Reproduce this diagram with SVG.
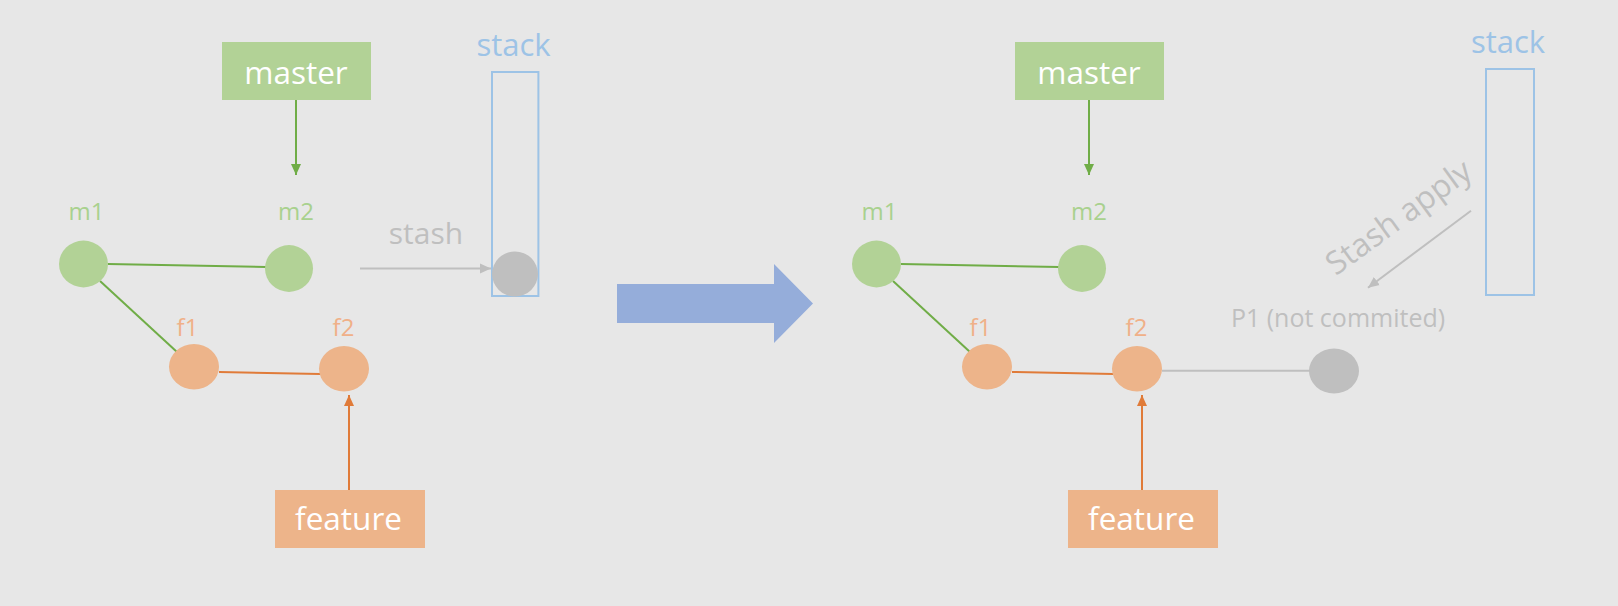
<svg xmlns="http://www.w3.org/2000/svg" width="1618" height="606" viewBox="0 0 1618 606">
<defs>
<style>
text{font-family:"Open Sans","Noto Sans","Liberation Sans",sans-serif;}
.bl{font-size:31.5px;fill:#ffffff;text-anchor:middle;}
.gl{font-size:24px;fill:#A9D18E;text-anchor:middle;}
.ol{font-size:24px;fill:#F0B088;text-anchor:middle;}
.st{font-size:31px;fill:#9DC3E6;text-anchor:middle;}
.gy{font-size:30px;fill:#BFBFBF;text-anchor:middle;}
.gbox{fill:#B2D296;}
.obox{fill:#EDB48A;}
.gn{fill:#B2D296;}
.on{fill:#EDB48A;}
.yn{fill:#BFBFBF;}
.stk{fill:none;stroke:#9DC3E6;stroke-width:2;}
.gline{stroke:#70AD47;stroke-width:2;fill:none;}
.oline{stroke:#E07B39;stroke-width:2;fill:none;}
.yline{stroke:#BFBFBF;stroke-width:2;fill:none;}
</style>
<marker id="ag" markerUnits="userSpaceOnUse" markerWidth="12" markerHeight="12" refX="11" refY="6" orient="auto"><path d="M0,1 L11,6 L0,11 Z" fill="#70AD47"/></marker>
<marker id="ao" markerUnits="userSpaceOnUse" markerWidth="12" markerHeight="12" refX="11" refY="6" orient="auto"><path d="M0,1 L11,6 L0,11 Z" fill="#E07B39"/></marker>
<marker id="ay" markerUnits="userSpaceOnUse" markerWidth="12" markerHeight="12" refX="11" refY="6" orient="auto"><path d="M0,1 L11,6 L0,11 Z" fill="#BFBFBF"/></marker>
</defs>
<rect x="0" y="0" width="1618" height="606" fill="#E7E7E7"/>

<g id="connectors">
<line class="gline" x1="296" y1="100" x2="296" y2="175" marker-end="url(#ag)"/>
<line class="gline" x1="108" y1="264" x2="266" y2="267"/>
<line class="gline" x1="100" y1="281" x2="177" y2="352"/>
<line class="oline" x1="219" y1="372" x2="320" y2="374"/>
<line class="oline" x1="349" y1="490" x2="349" y2="395" marker-end="url(#ao)"/>
<line class="yline" x1="360" y1="268.5" x2="491" y2="268.5" marker-end="url(#ay)"/>

<line class="gline" x1="1089" y1="100" x2="1089" y2="175" marker-end="url(#ag)"/>
<line class="gline" x1="901" y1="264" x2="1059" y2="267"/>
<line class="gline" x1="893" y1="281" x2="970" y2="352"/>
<line class="oline" x1="1012" y1="372" x2="1113" y2="374"/>
<line class="oline" x1="1142" y1="490" x2="1142" y2="395" marker-end="url(#ao)"/>
<line class="yline" x1="1162" y1="370.7" x2="1310" y2="370.7"/>
<line class="yline" x1="1471" y1="210.7" x2="1368" y2="287.7" marker-end="url(#ay)"/>
</g>

<g id="left-master"><rect class="gbox" x="222" y="42" width="149" height="58"/><text class="bl" x="296" y="84">master</text></g>
<g id="left-m1"><ellipse class="gn" cx="83.5" cy="264" rx="24.5" ry="23.4"/><text class="gl" x="86.5" y="219.5">m1</text></g>
<g id="left-m2"><ellipse class="gn" cx="289" cy="268.5" rx="24" ry="23.4"/><text class="gl" x="296" y="219.5">m2</text></g>
<g id="left-f1"><ellipse class="on" cx="194" cy="366.7" rx="25" ry="22.7"/><text class="ol" x="187.5" y="335.7">f1</text></g>
<g id="left-f2"><ellipse class="on" cx="344" cy="368.7" rx="25" ry="22.7"/><text class="ol" x="343.5" y="335.7">f2</text></g>
<g id="left-feature"><rect class="obox" x="275" y="490" width="150" height="58"/><text class="bl" x="348.5" y="529.5">feature</text></g>
<g id="left-stash-label"><text class="gy" x="426" y="243.6">stash</text></g>
<g id="left-stack"><text class="st" x="513.5" y="55.8">stack</text><rect class="stk" x="492" y="72" width="46.4" height="224"/><ellipse class="yn" cx="515" cy="274" rx="23" ry="22.5"/></g>

<g id="big-arrow"><path d="M617,284 L774,284 L774,264 L813,303.5 L774,343 L774,323 L617,323 Z" fill="#95ADDA"/></g>

<g id="right-master"><rect class="gbox" x="1015" y="42" width="149" height="58"/><text class="bl" x="1089" y="84">master</text></g>
<g id="right-m1"><ellipse class="gn" cx="876.5" cy="264" rx="24.5" ry="23.4"/><text class="gl" x="879.5" y="219.5">m1</text></g>
<g id="right-m2"><ellipse class="gn" cx="1082" cy="268.5" rx="24" ry="23.4"/><text class="gl" x="1089" y="219.5">m2</text></g>
<g id="right-f1"><ellipse class="on" cx="987" cy="366.7" rx="25" ry="22.7"/><text class="ol" x="980.5" y="335.7">f1</text></g>
<g id="right-f2"><ellipse class="on" cx="1137" cy="368.7" rx="25" ry="22.7"/><text class="ol" x="1136.5" y="335.7">f2</text></g>
<g id="right-feature"><rect class="obox" x="1068" y="490" width="150" height="58"/><text class="bl" x="1141.5" y="529.5">feature</text></g>
<g id="right-stack"><text class="st" x="1508" y="53.3">stack</text><rect class="stk" x="1486" y="69" width="48" height="226"/></g>
<g id="right-stash-apply"><text class="gy" style="font-size:32px" transform="translate(1405,226) rotate(-36)" x="0" y="0">Stash apply</text></g>
<g id="right-p1"><text class="gy" style="font-size:25px" x="1338" y="327">P1 (not commited)</text><ellipse class="yn" cx="1334" cy="371" rx="25" ry="22.5"/></g>
</svg>
